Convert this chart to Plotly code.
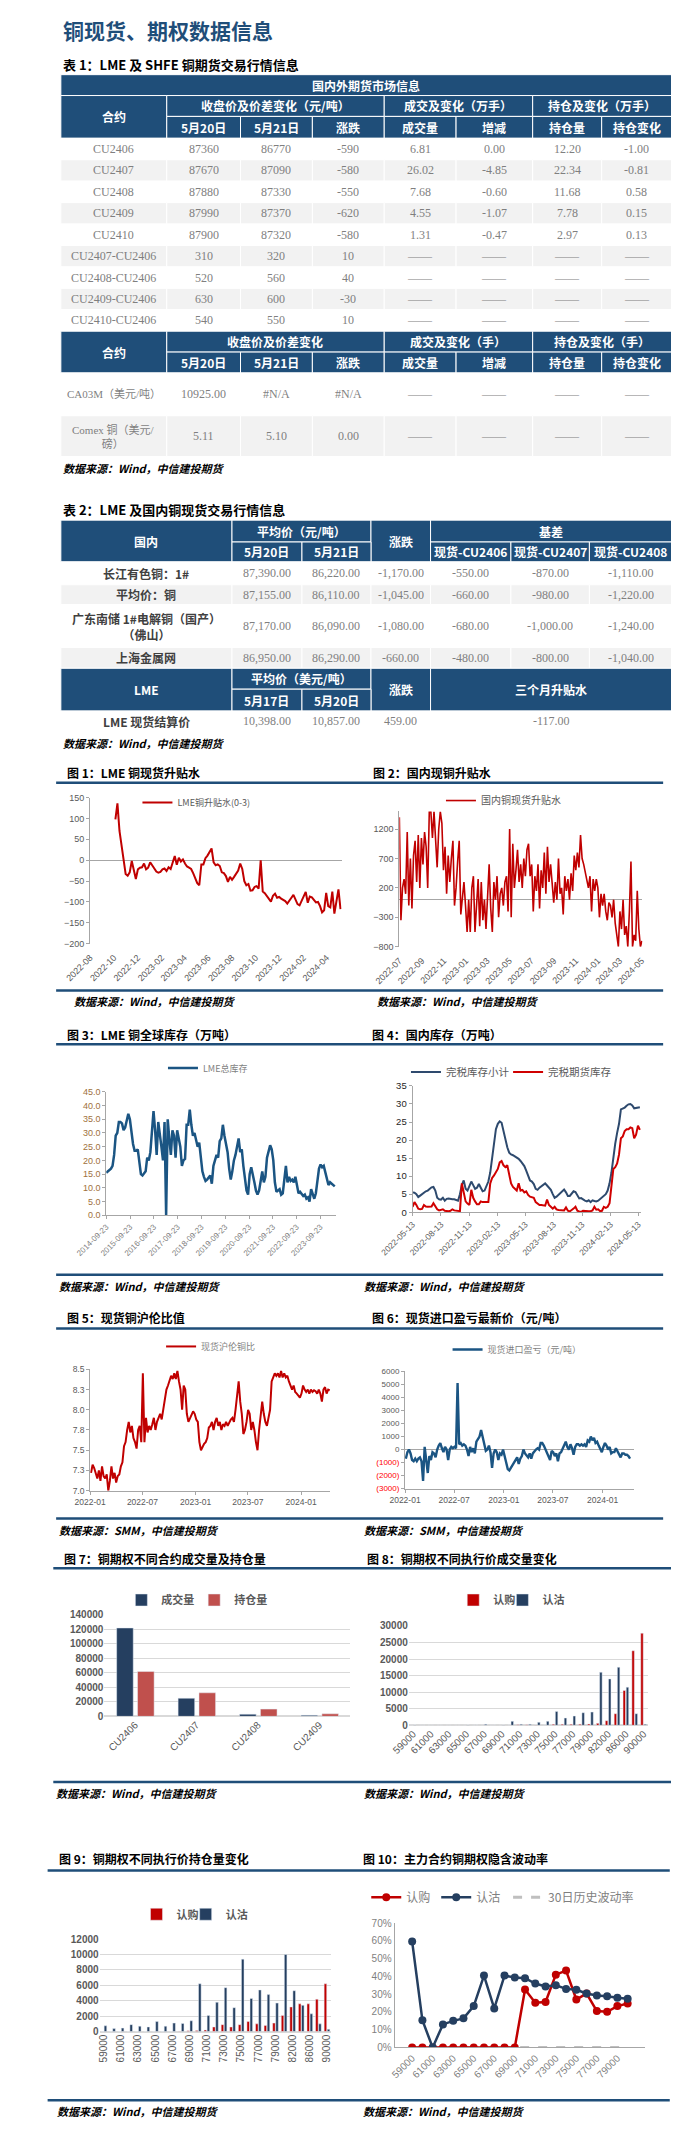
import plotly.graph_objects as go
import pandas as pd

# ---------------- table 1 ----------------
T1_CONTRACTS = ["CU2406", "CU2407", "CU2408", "CU2409", "CU2410",
                "CU2407-CU2406", "CU2408-CU2406", "CU2409-CU2406", "CU2410-CU2406"]
T1_CLOSE_0520 = ["87360", "87670", "87880", "87990", "87900", "310", "520", "630", "540"]
T1_CLOSE_0521 = ["86770", "87090", "87330", "87370", "87320", "320", "560", "600", "550"]
T1_CHANGE = ["-590", "-580", "-550", "-620", "-580", "10", "40", "-30", "10"]
T1_VOLUME = ["6.81", "26.02", "7.68", "4.55", "1.31", "——", "——", "——", "——"]
T1_VOL_CHG = ["0.00", "-4.85", "-0.60", "-1.07", "-0.47", "——", "——", "——", "——"]
T1_OI = ["12.20", "22.34", "11.68", "7.78", "2.97", "——", "——", "——", "——"]
T1_OI_CHG = ["-1.00", "-0.81", "0.58", "0.15", "0.13", "——", "——", "——", "——"]
T1_SUBHEAD = ["5月20日", "5月21日", "涨跌", "成交量", "增减", "持仓量", "持仓变化"]
T1_GROUPS_A = ["收盘价及价差变化（元/吨）", "成交及变化（万手）", "持仓及变化（万手）"]
T1_GROUPS_B = ["收盘价及价差变化", "成交及变化（手）", "持仓及变化（手）"]
T1_FOREIGN = ["CA03M（美元/吨）", "Comex 铜（美元/<br>磅）"]
T1_F_0520 = ["10925.00", "5.11"]
T1_F_0521 = ["#N/A", "5.10"]
T1_F_CHG = ["#N/A", "0.00"]
T1_F_REST = ["——", "——"]

# ---------------- table 2 ----------------
T2_NAMES = ["长江有色铜：1#", "平均价：铜", "广东南储 1#电解铜（国产）<br>（佛山）", "上海金属网"]
T2_0520 = ["87,390.00", "87,155.00", "87,170.00", "86,950.00"]
T2_0521 = ["86,220.00", "86,110.00", "86,090.00", "86,290.00"]
T2_CHG = ["-1,170.00", "-1,045.00", "-1,080.00", "-660.00"]
T2_B2406 = ["-550.00", "-660.00", "-680.00", "-480.00"]
T2_B2407 = ["-870.00", "-980.00", "-1,000.00", "-800.00"]
T2_B2408 = ["-1,110.00", "-1,220.00", "-1,240.00", "-1,040.00"]
T2_LME = ["LME 现货结算价", "10,398.00", "10,857.00", "459.00", "-117.00"]

# ---------------- chart 1: LME 0-3 ----------------
C1_START, C1_END = "2022-10-05", "2024-05-07"
C1_VALUES = [98, 136, 70, 36, 11, -33, -37, -29, -2, -25,
             -45, -22, -18, -17, -8, -22, -18, -5, -12, -22,
             -27, -30, -28, -22, -20, -26, -17, -21, -6, 10,
             -11, 6, -3, 2, -8, -15, -18, -21, -31, -43,
             -55, -60, -10, -10, 5, 11, 20, 28, -5, -12,
             -10, -14, -29, -31, -38, -52, -40, -47, -40, -32,
             -25, -8, -21, -50, -60, -57, -73, -72, -64, -62,
             -68, 0, -75, -79, -86, -93, -99, -85, -80, -90,
             -88, -92, -95, -98, -104, -98, -90, -83, -94, -105,
             -108, -98, -85, -76, -102, -87, -89, -94, -101, -100,
             -110, -125, -120, -78, -110, -113, -75, -128, -100, -70,
             -117]

# ---------------- chart 2: domestic spot premium ----------------
C2_START, C2_END = "2022-07-01", "2024-05-02"
C2_VALUES = [1400, -350, 200, 350, 100, 1150, -100, 700, -150, 750,
             1000, 300, 1100, 200, 1050, 600, 1150, 900, 200, 1500,
             1500, 1050, 1500, 1100, 550, 1200, 1500, 1300, 500, 900,
             100, 750, 300, 700, 1000, -100, 200, 650, 1000, -250,
             50, 300, -100, -550, 0, -550, 200, 400, -550, -150,
             350, -450, 300, -350, 0, -500, 200, 600, -150, -550,
             300, 0, 400, -300, 100, 200, -100, 300, 400, -200,
             1200, -300, 950, 200, 500, 850, 300, 600, 200, 700,
             400, 850, 950, 400, 600, -200, 400, 150, 600, -150,
             500, 200, 800, 100, 900, 300, 600, 200, -50, 300,
             0, 700, 100, 200, -250, 400, 150, 350, 0, 450,
             150, 750, 500, 800, 550, 1100, 700, 600, 450, 300,
             200, 400, -200, 350, 150, 350, 200, -300, 100, -100,
             100, -200, -350, -50, -100, -300, 0, -400, -600, -800,
             -200, -500, 0, -600, -450, -800, -200, 650, -800, -600,
             -700, 150, -500, -800, -700]

# ---------------- chart 3: LME stocks ----------------
C3_START, C3_END = "2014-09-23", "2024-05-01"
C3_TICKS = ["2014-09-23", "2015-09-23", "2016-09-23", "2017-09-23", "2018-09-23",
            "2019-09-23", "2020-09-23", "2021-09-23", "2022-09-23", "2023-09-23"]
C3_VALUES = [15.5, 16, 16.5, 17, 18, 22, 29, 30, 34, 34,
             33.5, 31, 32, 35, 37, 35, 30, 26, 23.5, 23.5,
             24, 20, 15, 14.5, 15.5, 16, 21, 20, 23, 30,
             38, 31, 22, 34, 30, 25, 20, 34, 0, 35,
             28, 22, 31, 29, 21, 31, 28, 25, 18, 20,
             20.5, 33, 33, 38.5, 33, 29, 30, 27, 25, 26.5,
             22, 16, 14, 12.5, 13, 14, 14.5, 11.5, 18, 20,
             22, 21, 27, 28, 33, 29, 26, 23, 17, 13,
             16, 20, 22, 25, 28, 23, 24, 18, 13, 9,
             7.5, 15, 17.5, 14, 12, 9, 7.5, 9, 13, 16,
             12, 14, 21, 23, 25.5, 24, 20, 12, 8.5, 9,
             9.5, 7.5, 8, 13, 18, 12, 14, 12.5, 13, 12,
             14, 11, 8, 8.5, 7.5, 7, 7.5, 6, 6.5, 5,
             9.5, 8, 6, 8, 12, 17, 18.5, 17.5, 18, 16,
             14, 11, 12, 11.5, 11, 10.5]

# ---------------- chart 4: domestic stocks ----------------
C4_START, C4_END = "2022-05-13", "2024-05-18"
C4_TICKS = ["2022-05-13", "2022-08-13", "2022-11-13", "2023-02-13", "2023-05-13",
            "2023-08-13", "2023-11-13", "2024-02-13", "2024-05-13"]
C4_BONDED_TOTAL = [5.5, 5.4, 5.0, 4.2, 4.6, 5.0, 5.5, 5.8, 6.0, 6.5,
                   6.9, 7.0, 6.0, 4.0, 3.6, 3.5, 4.0, 3.2, 3.7, 3.8,
                   3.6, 3.6, 3.6, 3.5, 3.2, 5.0, 7.5, 8.8, 6.5, 6.0,
                   7.5, 8.5, 7.5, 6.5, 6.8, 7.8, 6.8, 5.8, 6.0, 7.5,
                   8.5, 11, 15, 20, 23, 24.5, 25.2, 24.8, 22.5, 20,
                   18, 16.5, 16, 15.8, 15.5, 15.2, 14.8, 14.2, 13.5, 12.8,
                   11.5, 10, 8.8, 8.5, 7.8, 6.5, 6.2, 6.8, 7.2, 7.8,
                   8.0, 7.4, 6.8, 6.2, 5.0, 4.0, 4.3, 4.8, 5.2, 5.8,
                   6.3, 5.5, 4.5, 4.5, 5.3, 5.8, 5.6, 4.5, 3.8, 3.9,
                   3.5, 3.2, 3.0, 3.3, 2.8, 3.3, 3.1, 3.0, 3.2, 3.6,
                   4.2, 4.6, 5.0, 6.0, 8.0, 11, 15.5, 19, 22, 24.5,
                   28.5, 28.7, 29.0, 29.5, 29.9, 30.0, 29.6, 28.8, 28.9, 29.0,
                   29.1]
C4_BONDED_FUTURES = [1.5, 2.8, 2.0, 1.0, 0.8, 0.9, 2.0, 1.6, 1.5, 1.5,
                     1.6, 2.5, 1.5, 0.8, 0.5, 0.6, 0.8, 0.4, 0.3, 0.3,
                     0.4, 0.8, 0.5, 0.4, 0.4, 0.3, 8.0, 5.5, 3.0, 2.4,
                     2.0, 6.2, 4.0, 3.0, 2.2, 2.2, 3.0, 2.8, 2.8, 3.0,
                     2.8, 8.0, 9.5, 10.2, 11.0, 12.0, 13.8, 14.2, 13.0, 12.5,
                     13.0, 10.5, 8.0, 7.0, 6.5, 6.0, 8.0, 6.0, 6.2, 5.5,
                     5.8, 4.8, 4.3, 4.2, 4.0, 2.8, 2.5, 2.0, 2.0, 1.9,
                     1.8, 3.5, 2.0, 1.5, 1.0, 1.5, 0.8, 0.6, 0.5, 0.6,
                     0.5, 1.3, 0.4, 0.2, 0.5, 1.0, 1.5, 0.4, 0.2, 0.1,
                     0.4, 0.3, 0.4, 0.3, 0.3, 0.5, 1.5, 0.7, 0.8, 0.3,
                     0.4, 1.5, 1.2, 1.5, 2.5, 7.0, 12.0, 12.5, 13.5, 16.0,
                     20.5, 21.0, 22.5, 23.0, 23.0, 23.5, 23.3, 20.5, 21.5, 24.0,
                     22.8]

# ---------------- chart 5: SHFE/LME ratio ----------------
C5_START, C5_END = "2022-01-04", "2024-04-09"
C5_VALUES = [7.22, 7.32, 7.28, 7.22, 7.15, 7.25, 7.12, 7.30, 7.18, 7.15,
             7.20, 7.00, 7.12, 7.30, 7.15, 7.22, 7.10, 7.18, 7.20, 7.30,
             7.35, 7.55, 7.60, 7.75, 7.85, 7.72, 7.80, 7.65, 7.60, 7.52,
             7.75, 7.80, 7.60, 8.45, 7.60, 7.90, 7.72, 7.80, 7.75, 7.82,
             7.90, 7.75, 7.85, 7.90, 7.95, 7.88, 8.00, 8.10, 8.25, 8.30,
             8.35, 8.42, 8.38, 8.45, 8.38, 8.48, 8.35, 8.25, 8.00, 8.30,
             8.25, 7.95, 7.85, 7.90, 7.95, 7.98, 7.95, 7.88, 7.85, 7.60,
             7.50, 7.55, 7.58, 7.60, 7.65, 7.78, 7.80, 7.85, 7.75, 7.85,
             7.90, 7.80, 7.85, 7.75, 7.82, 7.80, 7.85, 7.80, 7.85, 7.88,
             7.90, 7.85, 8.00, 8.20, 8.35, 8.10, 7.95, 7.70, 7.75, 7.85,
             8.00, 7.95, 7.75, 7.85, 7.75, 7.60, 7.50, 7.75, 7.95, 8.10,
             7.95, 7.85, 7.80, 7.90, 8.00, 8.35, 8.40, 8.45, 8.42, 8.45,
             8.40, 8.48, 8.40, 8.45, 8.40, 8.42, 8.35, 8.30, 8.25, 8.30,
             8.22, 8.20, 8.18, 8.15, 8.20, 8.30, 8.25, 8.22, 8.25, 8.20,
             8.25, 8.22, 8.24, 8.23, 8.20, 8.25, 8.20, 8.10, 8.25, 8.28,
             8.20, 8.25, 8.24]

# ---------------- chart 6: import profit ----------------
C6_START, C6_END = "2022-01-04", "2024-04-11"
C6_VALUES = [-700, -200, 0, -300, -800, -900, -700, -900, -700, -600,
             -900, -2400, 200, -1000, -1800, -500, -800, -200, -300, -600,
             0, 300, 500, 100, -200, 200, 0, -800, 0, 200,
             100, 200, 100, 5100, 400, 500, 300, 400, 300, 0,
             -500, 200, -200, 100, -300, 600, 800, 1000, 1500, 1000,
             300, -100, 0, 300, -200, -1400, -300, 0, -200, -800,
             -300, -400, 0, -600, -1000, -1500, -1600, -1400, -1200, -1000,
             -800, -600, -1100, -700, -500, 0, -300, -500, -600, -300,
             -700, -300, -100, 0, 100, 0, 500, 500, 300, 0,
             -300, -500, -800, -100, -200, -500, -300, -900, -300, -200,
             100, 300, 600, 200, 0, 400, 100, -400, 200, 400,
             400, 300, 400, 300, 400, 200, 700, 600, 1000, 700,
             900, 500, 600, 300, 100, -200, 200, 500, 300, 0,
             200, -300, -200, -200, 100, -100, -400, -600, -300, -300,
             -400, -400, -500, -700]
C6_TICKVALS = [-3000, -2000, -1000, 0, 1000, 2000, 3000, 4000, 5000, 6000]

# ---------------- chart 7: option volume / OI by contract ----------------
C7_CONTRACTS = ["CU2406", "CU2407", "CU2408", "CU2409"]
C7_VOLUME = [122000, 25000, 3000, 1500]
C7_OI = [62000, 32500, 10000, 3500]

# ---------------- charts 8 / 9: by strike ----------------
STRIKES = ["59000", "60000", "61000", "62000", "63000", "64000", "65000", "66000", "67000",
           "68000", "69000", "70000", "71000", "72000", "73000", "74000", "75000", "76000",
           "77000", "78000", "79000", "80000", "82000", "84000", "86000", "88000", "90000"]
STRIKE_LABELS = ["59000", "61000", "63000", "65000", "67000", "69000", "71000",
                 "73000", "75000", "77000", "79000", "82000", "86000", "90000"]
C8_CALL = [0, 0, 0, 0, 0, 0, 0, 0, 0, 0, 0, 50, 150, 200, 100, 50, 300, 300,
           300, 350, 400, 600, 1400, 3500, 10500, 22500, 27800]
C8_PUT = [100, 0, 0, 0, 0, 0, 100, 50, 300, 50, 100, 1200, 300, 300, 900, 1200, 4200, 2200,
          2800, 3800, 4000, 16000, 14000, 17500, 11500, 3500, 300]
C9_CALL = [0, 0, 0, 0, 0, 0, 0, 0, 0, 50, 100, 150, 200, 600, 900, 600, 900, 1300,
           1000, 800, 1100, 2100, 3200, 3600, 3600, 4200, 6200]
C9_PUT = [750, 400, 450, 900, 700, 600, 1300, 700, 1100, 1050, 1400, 6200, 2100, 3800, 5700,
          3100, 9400, 4300, 5400, 4800, 3700, 10000, 5300, 3400, 2300, 1000, 300]

# ---------------- chart 10: implied vol ----------------
IV_STRIKES = ["59000", "60000", "61000", "62000", "63000", "64000", "65000", "66000",
              "67000", "68000", "69000", "70000", "71000", "72000", "73000", "74000",
              "75000", "76000", "77000", "78000", "79000", "80000"]
IV_LABELS = ["59000", "61000", "63000", "65000", "67000", "69000",
             "71000", "73000", "75000", "77000", "79000"]
IV_CALL = [0, 0, 0, 0, 0, 0, 0, 0, 0, 0, 0, 0.326, 0.252, 0.256, 0.41, 0.433,
           0.27, 0.304, 0.205, 0.201, 0.233, 0.248]
IV_PUT = [0.597, 0.153, 0, 0.13, 0.15, 0.164, 0.233, 0.405, 0.22, 0.405, 0.394,
          0.39, 0.36, 0.343, 0.35, 0.33, 0.325, 0.304, 0.293, 0.289, 0.28, 0.274]
HV30 = [0, 0, 0, 0, 0, 0, 0, 0, 0, 0, 0, 0, 0, 0, 0, 0, 0, 0, 0, 0, 0, 0]

# ---------------- style ----------------
W, H = 679, 2130
NAVY = "#1F4E79"
RED = "#C00000"
DARK = "#253F60"
BRED = "#C0504D"
STEEL = "#1B5583"
GRID = "#D9D9D9"
AXIS = "#A6A6A6"
TXT = "#595959"
GREY = "#7F7F7F"
ROWGREY = "#F2F2F2"
CJK = "Noto Sans CJK SC"
SANS = "Liberation Sans, Noto Sans CJK SC"
SERIF = "Liberation Serif, Noto Sans CJK SC"


def fx(x):
    return x / W


def fy(y):
    return 1 - y / H


fig = go.Figure()
shapes, notes = [], []


def text(x, y, s, size, color="black", bold=False, italic=False, anchor="left", family=CJK):
    notes.append(dict(xref="paper", yref="paper", x=fx(x), y=fy(y), text=s, showarrow=False,
                      xanchor=anchor, yanchor="middle",
                      font=dict(family=family, size=size, color=color,
                                weight="bold" if bold else "normal",
                                style="italic" if italic else "normal")))


def hline(x0, x1, y, color=NAVY, width=2.5):
    shapes.append(dict(type="line", xref="paper", yref="paper", x0=fx(x0), x1=fx(x1),
                       y0=fy(y), y1=fy(y), line=dict(color=color, width=width)))


def cell(x0, x1, y0, y1, fill, s="", color="white", size=12, bold=True, family=CJK):
    shapes.append(dict(type="rect", xref="paper", yref="paper", x0=fx(x0), x1=fx(x1),
                       y0=fy(y1), y1=fy(y0), fillcolor=fill, line=dict(color="white", width=1)))
    if s:
        text((x0 + x1) / 2, (y0 + y1) / 2, s, size, color, bold, anchor="center", family=family)


# ---------------- page heading ----------------
text(21, 16, "铜现货、期权数据信息", 21, NAVY, bold=True)

# ---------------- table 1 ----------------
text(21, 51, "表 1：LME 及 SHFE 铜期货交易行情信息", 13, bold=True)
X1 = [21, 133, 211, 287, 363, 439, 520, 593, 667]
cell(X1[0], X1[-1], 61, 82, NAVY, "国内外期货市场信息")
cell(X1[0], X1[1], 82, 125, NAVY, "合约")
for (a, b), g in zip([(1, 4), (4, 6), (6, 8)], T1_GROUPS_A):
    cell(X1[a], X1[b], 82, 103, NAVY, g)
for j, s in enumerate(T1_SUBHEAD):
    cell(X1[j + 1], X1[j + 2], 103, 125, NAVY, s)

cols1 = [T1_CONTRACTS, T1_CLOSE_0520, T1_CLOSE_0521, T1_CHANGE,
         T1_VOLUME, T1_VOL_CHG, T1_OI, T1_OI_CHG]
rh = (319 - 125) / len(T1_CONTRACTS)
for i in range(len(T1_CONTRACTS)):
    y0 = 125 + i * rh
    fill = ROWGREY if i % 2 else "white"
    for j, col in enumerate(cols1):
        cell(X1[j], X1[j + 1], y0, y0 + rh, fill, col[i], GREY, 12, False, SERIF)

cell(X1[0], X1[1], 319, 361, NAVY, "合约")
for (a, b), g in zip([(1, 4), (4, 6), (6, 8)], T1_GROUPS_B):
    cell(X1[a], X1[b], 319, 340, NAVY, g)
for j, s in enumerate(T1_SUBHEAD):
    cell(X1[j + 1], X1[j + 2], 340, 361, NAVY, s)

rows_f = [(361, 404), (404, 445)]
for i, (y0, y1) in enumerate(rows_f):
    fill = ROWGREY if i % 2 else "white"
    vals = [T1_FOREIGN[i], T1_F_0520[i], T1_F_0521[i], T1_F_CHG[i]] + [T1_F_REST[i]] * 4
    for j, v in enumerate(vals):
        cell(X1[j], X1[j + 1], y0, y1, fill, v, GREY, 11 if j == 0 else 12, False, SERIF)

text(21, 457, "数据来源：Wind，中信建投期货", 11, bold=True, italic=True)

# ---------------- table 2 ----------------
text(21, 498, "表 2：LME 及国内铜现货交易行情信息", 13, bold=True)
X2 = [21, 202, 276, 349, 412, 497, 580, 667]
cell(X2[0], X2[1], 509, 551, NAVY, "国内")
cell(X2[1], X2[3], 509, 531, NAVY, "平均价（元/吨）")
cell(X2[3], X2[4], 509, 551, NAVY, "涨跌")
cell(X2[4], X2[7], 509, 531, NAVY, "基差")
for j, s in zip([1, 2, 4, 5, 6], ["5月20日", "5月21日", "现货-CU2406", "现货-CU2407", "现货-CU2408"]):
    cell(X2[j], X2[j + 1], 531, 551, NAVY, s)

R2 = [551, 574, 594, 637, 658]
cols2 = [T2_0520, T2_0521, T2_CHG, T2_B2406, T2_B2407, T2_B2408]
for i in range(len(T2_NAMES)):
    fill = ROWGREY if i % 2 else "white"
    cell(X2[0], X2[1], R2[i], R2[i + 1], fill, T2_NAMES[i], "#404040", 12, True, CJK)
    for j, col in enumerate(cols2):
        cell(X2[j + 1], X2[j + 2], R2[i], R2[i + 1], fill, col[i], GREY, 12, False, SERIF)

cell(X2[0], X2[1], 658, 701, NAVY, "LME")
cell(X2[1], X2[3], 658, 679, NAVY, "平均价（美元/吨）")
cell(X2[3], X2[4], 658, 701, NAVY, "涨跌")
cell(X2[4], X2[7], 658, 701, NAVY, "三个月升贴水")
cell(X2[1], X2[2], 679, 701, NAVY, "5月17日")
cell(X2[2], X2[3], 679, 701, NAVY, "5月20日")
cell(X2[0], X2[1], 701, 722, "white", T2_LME[0], "#404040", 12, True, CJK)
cell(X2[1], X2[2], 701, 722, "white", T2_LME[1], GREY, 12, False, SERIF)
cell(X2[2], X2[3], 701, 722, "white", T2_LME[2], GREY, 12, False, SERIF)
cell(X2[3], X2[4], 701, 722, "white", T2_LME[3], GREY, 12, False, SERIF)
cell(X2[4], X2[7], 701, 722, "white", T2_LME[4], GREY, 12, False, SERIF)
text(21, 733, "数据来源：Wind，中信建投期货", 11, bold=True, italic=True)

# ---------------- chart frames ----------------
TITLES = [(25, 763, "图 1：LME 铜现货升贴水"), (349, 763, "图 2：国内现铜升贴水"),
          (25, 1026, "图 3：LME 铜全球库存（万吨）"), (348, 1026, "图 4：国内库存（万吨）"),
          (25, 1311, "图 5：现货铜沪伦比值"), (348, 1311, "图 6：现货进口盈亏最新价（元/吨）"),
          (22, 1553, "图 7：铜期权不同合约成交量及持仓量"), (343, 1553, "图 8：铜期权不同执行价成交量变化"),
          (17, 1855, "图 9：铜期权不同执行价持仓量变化"), (338, 1855, "图 10：主力合约铜期权隐含波动率")]
for x, y, s in TITLES:
    text(x, y, s, 12, bold=True)

for y, x0, x1 in [(773, 16, 658), (982, 16, 658), (1036, 16, 658), (1268, 16, 658),
                  (1322, 16, 658), (1513, 16, 658), (1563, 13, 668), (1778, 13, 668),
                  (1867, 7, 665), (2098, 7, 665)]:
    hline(x0, x1, y)

SOURCES = [(33, 993, "Wind"), (353, 993, "Wind"), (17, 1279, "Wind"), (340, 1279, "Wind"),
           (17, 1525, "SMM"), (340, 1525, "SMM"), (14, 1789, "Wind"), (340, 1789, "Wind"),
           (15, 2109, "Wind"), (338, 2109, "Wind")]
for x, y, src in SOURCES:
    text(x, y, "数据来源：" + src + "，中信建投期货", 11, bold=True, italic=True)


# ---------------- axes helpers ----------------
def tf(size, color=TXT, bold=False):
    return dict(family=SANS, size=size, color=color, weight="bold" if bold else "normal")


def place(n, x0, x1, y0, y1, xa, ya):
    sfx = "" if n == 1 else str(n)
    xa.update(domain=[fx(x0), fx(x1)], anchor="y" + sfx)
    ya.update(domain=[fy(y1), fy(y0)], anchor="x" + sfx)
    fig.update_layout({"xaxis" + sfx: xa, "yaxis" + sfx: ya})


def leg(n, x, y, size, color=TXT, bold=False):
    name = "legend" if n == 1 else "legend%d" % n
    fig.update_layout({name: dict(x=fx(x), y=fy(y), xanchor="left", yanchor="middle",
                                  orientation="h", bgcolor="rgba(0,0,0,0)", borderwidth=0,
                                  font=dict(family=CJK, size=size, color=color,
                                            weight="bold" if bold else "normal"))})
    return name


def yline(**kw):
    d = dict(showline=True, linecolor=AXIS, ticks="outside", ticklen=3, tickcolor=AXIS,
             showgrid=False, zeroline=False)
    d.update(kw)
    return d


# chart 1
fig.add_trace(go.Scatter(x=pd.date_range(C1_START, C1_END, periods=len(C1_VALUES)), y=C1_VALUES,
                         mode="lines", line=dict(color=RED, width=2), name="LME铜升贴水(0-3)",
                         xaxis="x", yaxis="y", legend=leg(1, 102, 793, 9)))
place(1, 52, 318, 788, 935,
      dict(type="date", range=["2022-08-01", "2024-05-10"], tick0="2022-08-01", dtick="M2",
           tickformat="%Y-%m", tickangle=-45, tickfont=tf(9), showline=False, showgrid=False,
           zeroline=False, ticklabelstandoff=6),
      yline(range=[-200, 150], dtick=50, tickfont=tf(9), zeroline=True, zerolinecolor=AXIS,
            zerolinewidth=1))

# chart 2
fig.add_trace(go.Scatter(x=pd.date_range(C2_START, C2_END, periods=len(C2_VALUES)), y=C2_VALUES,
                         mode="lines", line=dict(color=RED, width=1.6), name="国内铜现货升贴水",
                         xaxis="x2", yaxis="y2", legend=leg(2, 423, 791, 10)))
place(2, 379, 636, 802, 938,
      dict(type="date", range=["2022-07-01", "2024-05-03"], tick0="2022-07-01", dtick="M2",
           tickformat="%Y-%m", tickangle=-45, tickfont=tf(9), showline=False, showgrid=False,
           zeroline=False, ticklabelstandoff=6),
      yline(range=[-800, 1500], tickvals=[-800, -300, 200, 700, 1200], tickfont=tf(9),
            zeroline=True, zerolinecolor=AXIS, zerolinewidth=1))

# chart 3
fig.add_trace(go.Scatter(x=pd.date_range(C3_START, C3_END, periods=len(C3_VALUES)), y=C3_VALUES,
                         mode="lines", line=dict(color=STEEL, width=2.5), name="LME总库存",
                         xaxis="x3", yaxis="y3", legend=leg(3, 129, 1060, 9, GREY)))
place(3, 69, 312, 1084, 1208,
      dict(type="date", range=["2014-09-23", "2024-05-20"], tickvals=C3_TICKS,
           tickformat="%Y-%m-%d", tickangle=-45, tickfont=tf(8, GREY), showline=True,
           linecolor=AXIS, ticks="outside", ticklen=3, tickcolor=AXIS, showgrid=False,
           zeroline=False),
      yline(range=[0, 45], dtick=5, tickformat=".1f", tickfont=tf(9, "#A0703C")))

# chart 4
c4_dates = pd.date_range(C4_START, C4_END, periods=len(C4_BONDED_TOTAL))
fig.add_trace(go.Scatter(x=c4_dates, y=C4_BONDED_TOTAL, mode="lines",
                         line=dict(color="#2E4A6E", width=2), name="完税库存小计",
                         xaxis="x4", yaxis="y4", legend=leg(4, 386, 1064, 10.5)))
fig.add_trace(go.Scatter(x=c4_dates, y=C4_BONDED_FUTURES, mode="lines",
                         line=dict(color="#D00000", width=2), name="完税期货库存",
                         xaxis="x4", yaxis="y4", legend=leg(5, 494, 1064, 10.5)))
place(4, 393, 635, 1078, 1205,
      dict(type="date", range=["2022-05-13", "2024-05-23"], tickvals=C4_TICKS,
           tickformat="%Y-%m-%d", tickangle=-45, tickfont=tf(8.5), showline=True,
           linecolor=AXIS, ticks="outside", ticklen=3, tickcolor=AXIS, showgrid=False,
           zeroline=False),
      yline(range=[0, 35], dtick=5, tickfont=tf(9.5, "#262626")))

# chart 5
fig.add_trace(go.Scatter(x=pd.date_range(C5_START, C5_END, periods=len(C5_VALUES)), y=C5_VALUES,
                         mode="lines", line=dict(color=RED, width=2), name="现货沪伦铜比",
                         xaxis="x5", yaxis="y5", legend=leg(6, 127, 1340, 9, GREY)))
place(5, 52, 306, 1363, 1485,
      dict(type="date", range=["2022-01-01", "2024-04-11"], tick0="2022-01-01", dtick="M6",
           tickformat="%Y-%m", tickangle=0, tickfont=tf(8.5), showline=True, linecolor=AXIS,
           ticks="outside", ticklen=3, tickcolor=AXIS, showgrid=False, zeroline=False),
      yline(range=[7.0, 8.5], tickvals=[7.0, 7.25, 7.5, 7.75, 8.0, 8.25, 8.5],
            ticktext=["7.0", "7.3", "7.5", "7.8", "8.0", "8.3", "8.5"], tickfont=tf(8.5)))

# chart 6
c6_text = [("<span style='color:#FF0000'>(%d)</span>" % -v) if v < 0 else str(v)
           for v in C6_TICKVALS]
fig.add_trace(go.Scatter(x=pd.date_range(C6_START, C6_END, periods=len(C6_VALUES)), y=C6_VALUES,
                         mode="lines", line=dict(color=STEEL, width=2.4),
                         name="现货进口盈亏（元/吨）", xaxis="x6", yaxis="y6",
                         legend=leg(7, 430, 1343, 9, GREY)))
place(6, 385, 627, 1365, 1483,
      dict(type="date", range=["2022-01-01", "2024-04-25"], tick0="2022-01-01", dtick="M6",
           tickformat="%Y-%m", tickangle=0, tickfont=tf(8.5), showline=True, linecolor=AXIS,
           ticks="outside", ticklen=3, tickcolor=AXIS, showgrid=False, zeroline=False),
      yline(range=[-3000, 6000], tickvals=C6_TICKVALS, ticktext=c6_text, tickfont=tf(8),
            zeroline=True, zerolinecolor=AXIS, zerolinewidth=1))

# chart 7
fig.add_trace(go.Bar(x=C7_CONTRACTS, y=C7_VOLUME, name="成交量", marker_color=DARK,
                     width=0.27, offset=-0.30, xaxis="x7", yaxis="y7",
                     legend=leg(8, 85, 1595, 11, TXT, True)))
fig.add_trace(go.Bar(x=C7_CONTRACTS, y=C7_OI, name="持仓量", marker_color=BRED,
                     width=0.27, offset=0.04, xaxis="x7", yaxis="y7",
                     legend=leg(9, 162, 1595, 11, TXT, True)))


def bar_axes(size_y, tickvals=None, angle=-45):
    xa = dict(type="category", tickangle=angle, tickfont=tf(10, TXT), showline=False,
              showgrid=False, zeroline=False)
    if tickvals:
        xa.update(tickmode="array", tickvals=tickvals)
    ya = dict(showline=False, showgrid=True, gridcolor=GRID, zeroline=True, zerolinecolor=GRID,
              tickfont=tf(size_y, TXT, True), ticks="", tickformat="d")
    return xa, ya


xa, ya = bar_axes(10)
ya.update(range=[0, 140000], dtick=20000)
place(7, 67, 327, 1610, 1712, xa, ya)

# chart 8
fig.add_trace(go.Bar(x=STRIKES, y=C8_CALL, name="认购", marker_color=RED, width=0.28,
                     offset=-0.32, xaxis="x8", yaxis="y8", legend=leg(10, 436, 1595, 11, TXT, True)))
fig.add_trace(go.Bar(x=STRIKES, y=C8_PUT, name="认沽", marker_color=DARK, width=0.28,
                     offset=0.04, xaxis="x8", yaxis="y8", legend=leg(11, 488, 1595, 11, TXT, True)))
xa, ya = bar_axes(10, STRIKE_LABELS)
ya.update(range=[0, 30000], dtick=5000)
place(8, 389, 642, 1621, 1721, xa, ya)

# chart 9
fig.add_trace(go.Bar(x=STRIKES, y=C9_CALL, name="认购", marker_color=RED, width=0.3,
                     offset=-0.33, xaxis="x9", yaxis="y9", legend=leg(12, 101, 1911, 11, TXT, True)))
fig.add_trace(go.Bar(x=STRIKES, y=C9_PUT, name="认沽", marker_color=DARK, width=0.3,
                     offset=0.03, xaxis="x9", yaxis="y9", legend=leg(13, 153, 1911, 11, TXT, True)))
xa, ya = bar_axes(10, STRIKE_LABELS, -90)
ya.update(range=[0, 12000], dtick=2000)
place(9, 62, 307, 1936, 2029, xa, ya)

# chart 10
fig.add_trace(go.Scatter(x=IV_STRIKES, y=HV30, mode="lines", name="30日历史波动率",
                         line=dict(color="#BFBFBF", width=3, dash="dash"),
                         xaxis="x10", yaxis="y10", legend=leg(16, 494, 1894, 12, GREY)))
fig.add_trace(go.Scatter(x=IV_STRIKES, y=IV_CALL, mode="lines+markers", name="认购",
                         line=dict(color=RED, width=2.5), marker=dict(size=8, color=RED),
                         xaxis="x10", yaxis="y10", legend=leg(14, 344, 1894, 12, GREY)))
fig.add_trace(go.Scatter(x=IV_STRIKES, y=IV_PUT, mode="lines+markers", name="认沽",
                         line=dict(color=DARK, width=2.5), marker=dict(size=8, color=DARK),
                         xaxis="x10", yaxis="y10", legend=leg(15, 418, 1894, 12, GREY)))
place(10, 374, 639, 1920, 2045,
      dict(type="category", tickmode="array", tickvals=IV_LABELS, tickangle=-45,
           tickfont=tf(10, GREY), showline=True, linecolor=AXIS, showgrid=False, zeroline=False),
      yline(range=[0, 0.7], dtick=0.1, tickformat=".0%", tickfont=tf(10, GREY), ticks=""))

fig.update_layout(width=W, height=H, margin=dict(l=0, r=0, t=0, b=0),
                  paper_bgcolor="white", plot_bgcolor="white", barmode="overlay",
                  showlegend=True, shapes=shapes, annotations=notes)

fig.write_html("out.html", config={"displayModeBar": False})
